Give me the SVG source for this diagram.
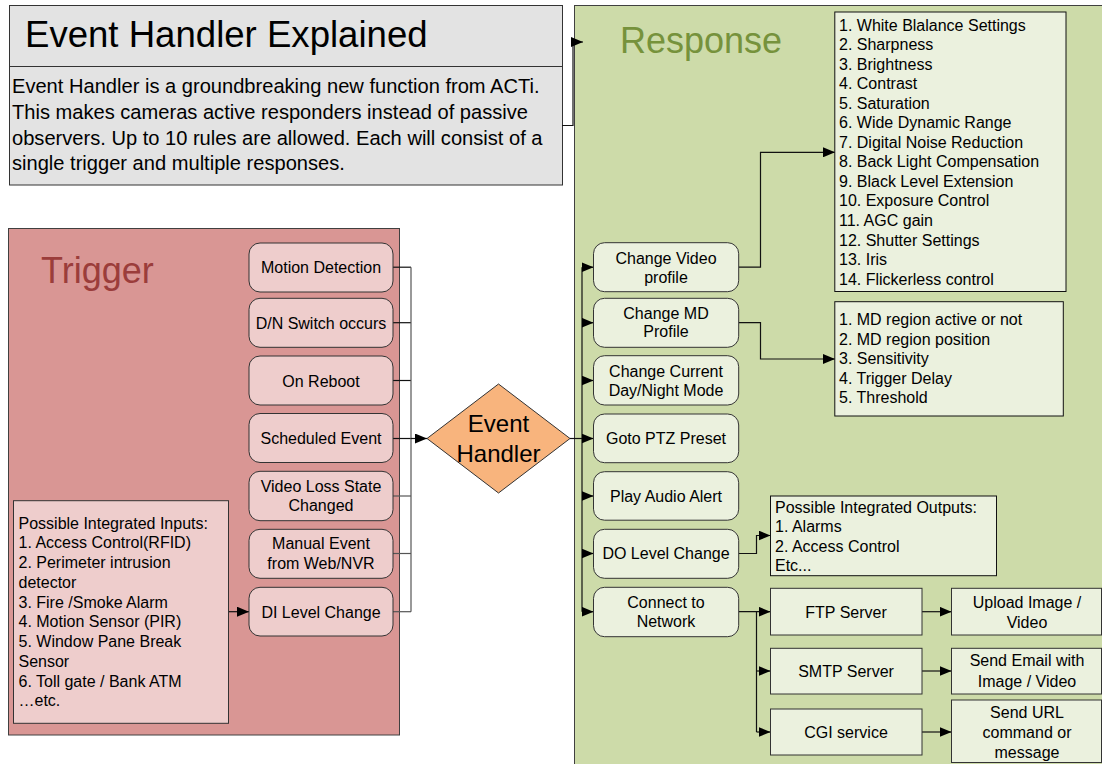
<svg xmlns="http://www.w3.org/2000/svg" width="1102" height="764" viewBox="0 0 1102 764">
<style>
text{font-family:"Liberation Sans",Arial,sans-serif;fill:#000}
.t16{font-size:16px}
.c{text-anchor:middle}
.reg{stroke:#404040;stroke-width:1}
.tb{fill:#eecdcc;stroke:#333;stroke-width:1}
.rb{fill:#ebf1de;stroke:#333;stroke-width:1}
.lb{fill:#ebf1de;stroke:#111;stroke-width:1}
.ln{fill:none;stroke:#111;stroke-width:1.2}
.lg{fill:none;stroke:#555;stroke-width:1.2}
</style>
<defs>
<marker id="ah" markerUnits="userSpaceOnUse" markerWidth="12" markerHeight="10" refX="12" refY="5" orient="auto">
<path d="M0,0 L12,5 L0,10 z" fill="#000"/>
</marker>
</defs>

<g id="response-region">
<rect x="574.5" y="5.5" width="530" height="762" fill="#cddba9" class="reg"/>
<text x="620" y="53" style="font-size:36px;fill:#76923c">Response</text>
</g>

<g id="trigger-region">
<rect x="8.5" y="228.5" width="391" height="506.5" fill="#d99694" class="reg"/>
<text x="41" y="283" style="font-size:36px;fill:#9b3d3b">Trigger</text>
</g>

<g id="title-box">
<rect x="9.5" y="5.5" width="553" height="61" fill="#e3e3e3" stroke="#333"/>
<rect x="9.5" y="66.5" width="553" height="118.5" fill="#e3e3e3" stroke="#333"/>
<text x="25" y="47" style="font-size:36.6px">Event Handler Explained</text>
<text x="12" style="font-size:20.1px">
<tspan x="12" y="93.3">Event Handler is a groundbreaking new function from ACTi.</tspan>
<tspan x="12" y="119">This makes cameras active responders instead of passive</tspan>
<tspan x="12" y="144.7">observers. Up to 10 rules are allowed. Each will consist of a</tspan>
<tspan x="12" y="170.4">single trigger and multiple responses.</tspan>
</text>
</g>

<g id="connectors">
<path class="ln" d="M562,125.5 H573 V42 H583" marker-end="url(#ah)"/>
<path class="ln" d="M393,267.2 H411"/>
<path class="ln" d="M393,322.7 H411"/>
<path class="ln" d="M393,380.5 H411"/>
<path class="ln" d="M393,438.5 H411"/>
<path class="lg" d="M393,496 H411"/>
<path class="lg" d="M393,553.5 H411"/>
<path class="lg" d="M393,611.7 H411"/>
<path class="lg" d="M411,267.2 V611.7"/>
<path class="ln" d="M411,438.5 H427" marker-end="url(#ah)"/>
<path class="ln" d="M228.5,611.7 H249" marker-end="url(#ah)"/>
<path class="ln" d="M570,438.5 H582"/>
<path class="ln" d="M582,267.2 V611.7"/>
<path class="ln" d="M582,267.2 H593.5" marker-end="url(#ah)"/>
<path class="ln" d="M582,322.7 H593.5" marker-end="url(#ah)"/>
<path class="ln" d="M582,380.5 H593.5" marker-end="url(#ah)"/>
<path class="ln" d="M582,438.5 H593.5" marker-end="url(#ah)"/>
<path class="ln" d="M582,496 H593.5" marker-end="url(#ah)"/>
<path class="ln" d="M582,553.5 H593.5" marker-end="url(#ah)"/>
<path class="ln" d="M582,611.7 H593.5" marker-end="url(#ah)"/>
<path class="ln" d="M738.7,267.2 H760.5 V152.3 H835" marker-end="url(#ah)"/>
<path class="ln" d="M738.7,322.7 H760.5 V359 H835" marker-end="url(#ah)"/>
<path class="ln" d="M738.7,553.5 H756.5 V535.5 H770.5" marker-end="url(#ah)"/>
<path class="ln" d="M738.7,611.7 H770.5" marker-end="url(#ah)"/>
<path class="ln" d="M756.5,611.7 V732"/>
<path class="ln" d="M756.5,671 H770.5" marker-end="url(#ah)"/>
<path class="ln" d="M756.5,732 H770.5" marker-end="url(#ah)"/>
<path class="ln" d="M922,611.7 H951.5" marker-end="url(#ah)"/>
<path class="ln" d="M922,671 H951.5" marker-end="url(#ah)"/>
<path class="ln" d="M922,732 H951.5" marker-end="url(#ah)"/>
</g>

<g id="t-motion"><rect class="tb" x="249" y="243" width="144" height="49" rx="11"/><text class="t16 c" x="321" y="273.2">Motion Detection</text></g>
<g id="t-dn"><rect class="tb" x="249" y="298.3" width="144" height="49" rx="11"/><text class="t16 c" x="321" y="328.7">D/N Switch occurs</text></g>
<g id="t-reboot"><rect class="tb" x="249" y="356" width="144" height="49" rx="11"/><text class="t16 c" x="321" y="386.5">On Reboot</text></g>
<g id="t-scheduled"><rect class="tb" x="249" y="413.5" width="144" height="49" rx="11"/><text class="t16 c" x="321" y="444.3">Scheduled Event</text></g>
<g id="t-videoloss"><rect class="tb" x="249" y="471.3" width="144" height="49.4" rx="11"/><text class="t16 c" x="321"><tspan x="321" y="491.5">Video Loss State</tspan><tspan x="321" y="511">Changed</tspan></text></g>
<g id="t-manual"><rect class="tb" x="249" y="529.3" width="144" height="49" rx="11"/><text class="t16 c" x="321"><tspan x="321" y="549.3">Manual Event</tspan><tspan x="321" y="569.3">from Web/NVR</tspan></text></g>
<g id="t-di"><rect class="tb" x="249" y="587.3" width="144" height="48.7" rx="11"/><text class="t16 c" x="321" y="617.7">DI Level Change</text></g>

<g id="t-inputs">
<rect class="tb" x="13.5" y="500.7" width="215" height="222.6" stroke="#111"/>
<text class="t16" x="18.5">
<tspan x="18.5" y="528.5">Possible Integrated Inputs:</tspan>
<tspan x="18.5" y="548.2">1. Access Control(RFID)</tspan>
<tspan x="18.5" y="568">2. Perimeter intrusion</tspan>
<tspan x="18.5" y="587.7">detector</tspan>
<tspan x="18.5" y="607.5">3. Fire /Smoke Alarm</tspan>
<tspan x="18.5" y="627.2">4. Motion Sensor (PIR)</tspan>
<tspan x="18.5" y="647">5. Window Pane Break</tspan>
<tspan x="18.5" y="666.7">Sensor</tspan>
<tspan x="18.5" y="686.5">6. Toll gate / Bank ATM</tspan>
<tspan x="18.5" y="706.2">…etc.</tspan>
</text>
</g>

<g id="event-handler">
<polygon points="427,438.5 498.5,384 570,438.5 498.5,493" fill="#f8b47d" stroke="#333"/>
<text class="c" style="font-size:24px" x="498.5"><tspan x="498.5" y="432">Event</tspan><tspan x="498.5" y="462">Handler</tspan></text>
</g>

<g id="r-video"><rect class="rb" x="593.5" y="242.7" width="145.2" height="49" rx="11"/><text class="t16 c" x="666"><tspan x="666" y="263.5">Change Video</tspan><tspan x="666" y="282.5">profile</tspan></text></g>
<g id="r-md"><rect class="rb" x="593.5" y="298.3" width="145.2" height="49" rx="11"/><text class="t16 c" x="666"><tspan x="666" y="318.5">Change MD</tspan><tspan x="666" y="337">Profile</tspan></text></g>
<g id="r-daynight"><rect class="rb" x="593.5" y="355.7" width="145.2" height="49.3" rx="11"/><text class="t16 c" x="666"><tspan x="666" y="376.5">Change Current</tspan><tspan x="666" y="396">Day/Night Mode</tspan></text></g>
<g id="r-ptz"><rect class="rb" x="593.5" y="414" width="145.2" height="48.7" rx="11"/><text class="t16 c" x="666" y="444.2">Goto PTZ Preset</text></g>
<g id="r-audio"><rect class="rb" x="593.5" y="471.7" width="145.2" height="48.5" rx="11"/><text class="t16 c" x="666" y="501.7">Play Audio Alert</text></g>
<g id="r-do"><rect class="rb" x="593.5" y="529.3" width="145.2" height="49" rx="11"/><text class="t16 c" x="666" y="559.3">DO Level Change</text></g>
<g id="r-network"><rect class="rb" x="593.5" y="587.3" width="145.2" height="49.4" rx="11"/><text class="t16 c" x="666"><tspan x="666" y="607.5">Connect to</tspan><tspan x="666" y="626.7">Network</tspan></text></g>

<g id="video-settings">
<rect class="lb" x="834.8" y="12" width="231.2" height="279.5"/>
<text class="t16" x="839">
<tspan x="839" y="30.5">1. White Blalance Settings</tspan>
<tspan x="839" y="50">2. Sharpness</tspan>
<tspan x="839" y="69.6">3. Brightness</tspan>
<tspan x="839" y="89.1">4. Contrast</tspan>
<tspan x="839" y="108.7">5. Saturation</tspan>
<tspan x="839" y="128.2">6. Wide Dynamic Range</tspan>
<tspan x="839" y="147.8">7. Digital Noise Reduction</tspan>
<tspan x="839" y="167.3">8. Back Light Compensation</tspan>
<tspan x="839" y="186.9">9. Black Level Extension</tspan>
<tspan x="839" y="206.4">10. Exposure Control</tspan>
<tspan x="839" y="226">11. AGC gain</tspan>
<tspan x="839" y="245.5">12. Shutter Settings</tspan>
<tspan x="839" y="265.1">13. Iris</tspan>
<tspan x="839" y="284.6">14. Flickerless control</tspan>
</text>
</g>

<g id="md-settings">
<rect class="lb" x="834.8" y="301.7" width="228.5" height="114.3"/>
<text class="t16" x="839">
<tspan x="839" y="325.3">1. MD region active or not</tspan>
<tspan x="839" y="344.8">2. MD region position</tspan>
<tspan x="839" y="364.3">3. Sensitivity</tspan>
<tspan x="839" y="383.8">4. Trigger Delay</tspan>
<tspan x="839" y="403.3">5. Threshold</tspan>
</text>
</g>

<g id="outputs">
<rect class="lb" x="770.5" y="496" width="226" height="79.7"/>
<text class="t16" x="775">
<tspan x="775" y="512.7">Possible Integrated Outputs:</tspan>
<tspan x="775" y="532">1. Alarms</tspan>
<tspan x="775" y="551.5">2. Access Control</tspan>
<tspan x="775" y="571">Etc...</tspan>
</text>
</g>

<g id="ftp"><rect class="rb" x="770.5" y="588.3" width="151.5" height="46.7"/><text class="t16 c" x="846" y="617.7">FTP Server</text></g>
<g id="smtp"><rect class="rb" x="770.5" y="648.3" width="151.5" height="45.7"/><text class="t16 c" x="846" y="677">SMTP Server</text></g>
<g id="cgi"><rect class="rb" x="770.5" y="709" width="151.5" height="46"/><text class="t16 c" x="846" y="738">CGI service</text></g>

<g id="upload"><rect class="rb" x="951.5" y="588.3" width="150" height="46.7"/><text class="t16 c" x="1027"><tspan x="1027" y="607.7">Upload Image /</tspan><tspan x="1027" y="627.7">Video</tspan></text></g>
<g id="email"><rect class="rb" x="951.5" y="648.3" width="150" height="45.7"/><text class="t16 c" x="1027"><tspan x="1027" y="666">Send Email with</tspan><tspan x="1027" y="686.7">Image / Video</tspan></text></g>
<g id="url"><rect class="rb" x="951.5" y="700" width="150" height="62.5"/><text class="t16 c" x="1027"><tspan x="1027" y="717.7">Send URL</tspan><tspan x="1027" y="737.7">command or</tspan><tspan x="1027" y="757.7">message</tspan></text></g>
</svg>
